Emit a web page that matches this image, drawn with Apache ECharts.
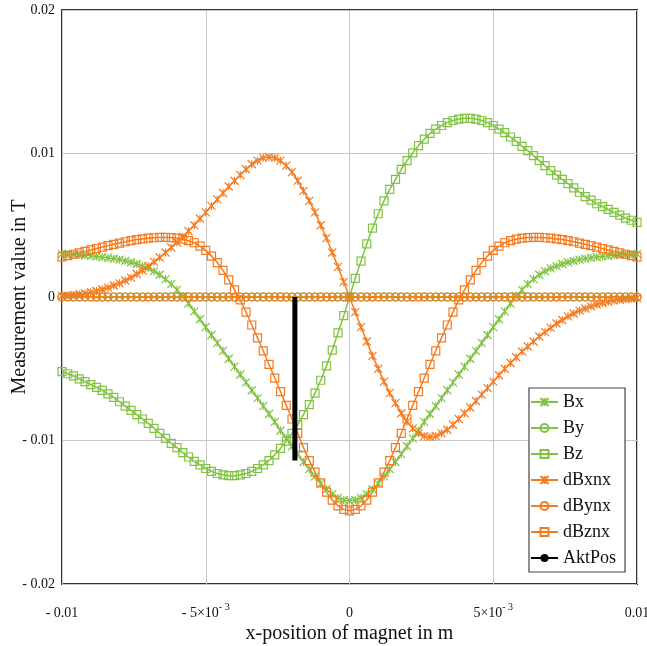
<!DOCTYPE html>
<html>
<head>
<meta charset="utf-8">
<script src="https://cdn.jsdelivr.net/npm/echarts@6/dist/echarts.min.js"></script>
<style>html,body{margin:0;padding:0;background:#fff}#c{width:647px;height:646px}</style>
</head>
<body>
<div id="c"></div>
<script>
// x positions of magnet (m)
var xs = [-0.0100,-0.0098,-0.0096,-0.0094,-0.0092,-0.0090,-0.0088,-0.0086,-0.0084,-0.0082,
-0.0080,-0.0078,-0.0076,-0.0074,-0.0072,-0.0070,-0.0068,-0.0066,-0.0064,-0.0062,
-0.0060,-0.0058,-0.0056,-0.0054,-0.0052,-0.0050,-0.0048,-0.0046,-0.0044,-0.0042,
-0.0040,-0.0038,-0.0036,-0.0034,-0.0032,-0.0030,-0.0028,-0.0026,-0.0024,-0.0022,
-0.0020,-0.0018,-0.0016,-0.0014,-0.0012,-0.0010,-0.0008,-0.0006,-0.0004,-0.0002,
0,
0.0002,0.0004,0.0006,0.0008,0.0010,0.0012,0.0014,0.0016,0.0018,0.0020,
0.0022,0.0024,0.0026,0.0028,0.0030,0.0032,0.0034,0.0036,0.0038,0.0040,
0.0042,0.0044,0.0046,0.0048,0.0050,0.0052,0.0054,0.0056,0.0058,0.0060,
0.0062,0.0064,0.0066,0.0068,0.0070,0.0072,0.0074,0.0076,0.0078,0.0080,
0.0082,0.0084,0.0086,0.0088,0.0090,0.0092,0.0094,0.0096,0.0098,0.0100];

// Measurement values in T
var bx = [3.0e-3,2.98e-3,2.96e-3,2.94e-3,2.91e-3,2.87e-3,2.83e-3,2.78e-3,2.73e-3,2.67e-3,
2.6e-3,2.52e-3,2.42e-3,2.3e-3,2.15e-3,2.0e-3,1.8e-3,1.55e-3,1.25e-3,0.9e-3,
0.5e-3,0.05e-3,-0.45e-3,-1.0e-3,-1.55e-3,-2.1e-3,-2.65e-3,-3.2e-3,-3.75e-3,-4.3e-3,
-4.85e-3,-5.4e-3,-5.95e-3,-6.5e-3,-7.05e-3,-7.6e-3,-8.15e-3,-8.7e-3,-9.3e-3,-9.85e-3,
-10.4e-3,-10.95e-3,-11.5e-3,-12.0e-3,-12.5e-3,-13.0e-3,-13.4e-3,-13.75e-3,-14.0e-3,-14.15e-3,
-14.2e-3,
-14.15e-3,-14.0e-3,-13.75e-3,-13.4e-3,-13.0e-3,-12.5e-3,-12.0e-3,-11.5e-3,-10.95e-3,-10.4e-3,
-9.85e-3,-9.3e-3,-8.7e-3,-8.15e-3,-7.6e-3,-7.05e-3,-6.5e-3,-5.95e-3,-5.4e-3,-4.85e-3,
-4.3e-3,-3.75e-3,-3.2e-3,-2.65e-3,-2.1e-3,-1.55e-3,-1.0e-3,-0.45e-3,0.05e-3,0.5e-3,
0.9e-3,1.25e-3,1.55e-3,1.8e-3,2.0e-3,2.15e-3,2.3e-3,2.42e-3,2.52e-3,2.6e-3,
2.67e-3,2.73e-3,2.78e-3,2.83e-3,2.87e-3,2.91e-3,2.94e-3,2.96e-3,2.98e-3,3.0e-3];

var by = [0,0,0,0,0,0,0,0,0,0, 0,0,0,0,0,0,0,0,0,0, 0,0,0,0,0,0,0,0,0,0, 0,0,0,0,0,0,0,0,0,0, 0,0,0,0,0,0,0,0,0,0,
0,
0,0,0,0,0,0,0,0,0,0, 0,0,0,0,0,0,0,0,0,0, 0,0,0,0,0,0,0,0,0,0, 0,0,0,0,0,0,0,0,0,0, 0,0,0,0,0,0,0,0,0,0];

var bz = [-5.2e-3,-5.35e-3,-5.5e-3,-5.7e-3,-5.9e-3,-6.1e-3,-6.3e-3,-6.5e-3,-6.75e-3,-7.0e-3,
-7.3e-3,-7.6e-3,-7.9e-3,-8.2e-3,-8.5e-3,-8.8e-3,-9.15e-3,-9.5e-3,-9.85e-3,-10.2e-3,
-10.5e-3,-10.85e-3,-11.15e-3,-11.45e-3,-11.7e-3,-11.95e-3,-12.15e-3,-12.3e-3,-12.4e-3,-12.45e-3,
-12.45e-3,-12.4e-3,-12.3e-3,-12.15e-3,-11.95e-3,-11.7e-3,-11.4e-3,-11.0e-3,-10.55e-3,-10.05e-3,
-9.5e-3,-8.9e-3,-8.2e-3,-7.5e-3,-6.7e-3,-5.8e-3,-4.8e-3,-3.7e-3,-2.5e-3,-1.3e-3,
0,
1.3e-3,2.5e-3,3.7e-3,4.8e-3,5.8e-3,6.7e-3,7.5e-3,8.2e-3,8.9e-3,9.5e-3,
10.05e-3,10.55e-3,11.0e-3,11.4e-3,11.7e-3,11.95e-3,12.15e-3,12.3e-3,12.4e-3,12.45e-3,
12.45e-3,12.4e-3,12.3e-3,12.15e-3,11.95e-3,11.7e-3,11.45e-3,11.15e-3,10.85e-3,10.5e-3,
10.2e-3,9.85e-3,9.5e-3,9.15e-3,8.8e-3,8.5e-3,8.2e-3,7.9e-3,7.6e-3,7.3e-3,
7.0e-3,6.75e-3,6.5e-3,6.3e-3,6.1e-3,5.9e-3,5.7e-3,5.5e-3,5.35e-3,5.2e-3];

var dBxnx = [0.07e-3,0.1e-3,0.14e-3,0.19e-3,0.25e-3,0.33e-3,0.42e-3,0.52e-3,0.65e-3,0.8e-3,
0.95e-3,1.15e-3,1.35e-3,1.6e-3,1.85e-3,2.15e-3,2.45e-3,2.75e-3,3.1e-3,3.45e-3,
3.8e-3,4.2e-3,4.6e-3,5.0e-3,5.45e-3,5.9e-3,6.35e-3,6.8e-3,7.25e-3,7.7e-3,
8.1e-3,8.5e-3,8.9e-3,9.25e-3,9.5e-3,9.7e-3,9.75e-3,9.7e-3,9.5e-3,9.15e-3,
8.7e-3,8.1e-3,7.4e-3,6.7e-3,5.9e-3,5.0e-3,4.1e-3,3.1e-3,2.1e-3,1.05e-3,
0,
-1.05e-3,-2.1e-3,-3.1e-3,-4.1e-3,-5.0e-3,-5.9e-3,-6.7e-3,-7.4e-3,-8.1e-3,-8.7e-3,
-9.15e-3,-9.5e-3,-9.7e-3,-9.75e-3,-9.7e-3,-9.5e-3,-9.25e-3,-8.9e-3,-8.5e-3,-8.1e-3,
-7.7e-3,-7.25e-3,-6.8e-3,-6.35e-3,-5.9e-3,-5.45e-3,-5.0e-3,-4.6e-3,-4.2e-3,-3.8e-3,
-3.45e-3,-3.1e-3,-2.75e-3,-2.45e-3,-2.15e-3,-1.85e-3,-1.6e-3,-1.35e-3,-1.15e-3,-0.95e-3,
-0.8e-3,-0.65e-3,-0.52e-3,-0.42e-3,-0.33e-3,-0.25e-3,-0.19e-3,-0.14e-3,-0.1e-3,-0.07e-3];

var dBynx = [0,0,0,0,0,0,0,0,0,0, 0,0,0,0,0,0,0,0,0,0, 0,0,0,0,0,0,0,0,0,0, 0,0,0,0,0,0,0,0,0,0, 0,0,0,0,0,0,0,0,0,0,
0,
0,0,0,0,0,0,0,0,0,0, 0,0,0,0,0,0,0,0,0,0, 0,0,0,0,0,0,0,0,0,0, 0,0,0,0,0,0,0,0,0,0, 0,0,0,0,0,0,0,0,0,0];

var dBznx = [2.8e-3,2.89e-3,2.98e-3,3.08e-3,3.18e-3,3.28e-3,3.38e-3,3.48e-3,3.58e-3,3.67e-3,
3.76e-3,3.85e-3,3.93e-3,4.0e-3,4.05e-3,4.1e-3,4.13e-3,4.15e-3,4.15e-3,4.14e-3,
4.1e-3,4.03e-3,3.93e-3,3.78e-3,3.55e-3,3.25e-3,2.85e-3,2.4e-3,1.85e-3,1.2e-3,
0.5e-3,-0.2e-3,-1.05e-3,-1.95e-3,-2.85e-3,-3.75e-3,-4.7e-3,-5.65e-3,-6.6e-3,-7.55e-3,
-8.5e-3,-9.5e-3,-10.5e-3,-11.4e-3,-12.2e-3,-12.95e-3,-13.6e-3,-14.15e-3,-14.55e-3,-14.8e-3,
-14.9e-3,
-14.8e-3,-14.55e-3,-14.15e-3,-13.6e-3,-12.95e-3,-12.2e-3,-11.4e-3,-10.5e-3,-9.5e-3,-8.5e-3,
-7.55e-3,-6.6e-3,-5.65e-3,-4.7e-3,-3.75e-3,-2.85e-3,-1.95e-3,-1.05e-3,-0.2e-3,0.5e-3,
1.2e-3,1.85e-3,2.4e-3,2.85e-3,3.25e-3,3.55e-3,3.78e-3,3.93e-3,4.03e-3,4.1e-3,
4.14e-3,4.15e-3,4.15e-3,4.13e-3,4.1e-3,4.05e-3,4.0e-3,3.93e-3,3.85e-3,3.76e-3,
3.67e-3,3.58e-3,3.48e-3,3.38e-3,3.28e-3,3.18e-3,3.08e-3,2.98e-3,2.89e-3,2.8e-3];

// AktPos marker line
var aktPosX = [-0.0019, -0.0019];
var aktPosY = [0, -0.0114];

// tick labels
var xTickValues = [-0.01, -0.005, 0, 0.005, 0.01];
var xTickMain = ['- 0.01', '- 5\u00d710', '0', '5\u00d710', '0.01'];
var xTickExp = ['', '- 3', '', '- 3', ''];
var yTickValues = [-0.02, -0.01, 0, 0.01, 0.02];
var yTickLabels = ['- 0.02', '- 0.01', '0', '0.01', '0.02'];

var seriesNames = ['Bx', 'By', 'Bz', 'dBxnx', 'dBynx', 'dBznx', 'AktPos'];

var GREEN = '#80c342';
var ORANGE = '#f47b20';
var FONT = 'Liberation Serif';
var X_SYMBOL = 'path://M0,0L10,10M10,0L0,10M5,0L5,10';

function pairs(xv, yv) {
  var out = [];
  for (var i = 0; i < xv.length; i++) out.push([xv[i], yv[i]]);
  return out;
}
function nearestIndex(arr, v) {
  var best = 0;
  for (var i = 1; i < arr.length; i++) if (Math.abs(arr[i] - v) < Math.abs(arr[best] - v)) best = i;
  return best;
}
function markerSeries(name, yv, color, symbol) {
  return {
    name: name, type: 'line', data: pairs(xs, yv),
    symbol: symbol, symbolSize: 8, showSymbol: true, showAllSymbol: true,
    lineStyle: { color: color, width: 1.5 },
    itemStyle: { color: 'rgba(0,0,0,0)', borderColor: color, borderWidth: 1.2 },
    emphasis: { disabled: true },
    animation: false
  };
}

var chart = echarts.init(document.getElementById('c'), null, { renderer: 'canvas' });
chart.setOption({
  animation: false,
  backgroundColor: '#fff',
  textStyle: { fontFamily: FONT },
  grid: { left: 62, right: 10, top: 10, bottom: 62, show: true, borderColor: '#333', borderWidth: 2,
          containLabel: false, outerBoundsMode: 'none' },
  xAxis: {
    type: 'value', min: -0.01, max: 0.01, interval: 0.005,
    axisLine: { show: false }, axisTick: { show: false },
    splitLine: { show: true, lineStyle: { color: '#c8c8c8', width: 1 } },
    axisLabel: {
      margin: 18, fontFamily: FONT, fontSize: 14, color: '#111',
      formatter: function (v) {
        var i = nearestIndex(xTickValues, v);
        var s = '{m|' + xTickMain[i] + '}';
        if (xTickExp[i]) s += '{e|' + xTickExp[i] + '}';
        return s;
      },
      rich: {
        m: { fontFamily: FONT, fontSize: 14, color: '#111', lineHeight: 18, verticalAlign: 'bottom' },
        e: { fontFamily: FONT, fontSize: 10, color: '#111', lineHeight: 10, verticalAlign: 'top' }
      }
    },
    name: 'x-position of magnet in m', nameLocation: 'middle', nameGap: 40, nameMoveOverlap: false,
    nameTextStyle: { fontFamily: FONT, fontSize: 20, color: '#111' }
  },
  yAxis: {
    type: 'value', min: -0.02, max: 0.02, interval: 0.01,
    axisLine: { show: false }, axisTick: { show: false },
    splitLine: { show: true, lineStyle: { color: '#c8c8c8', width: 1 } },
    axisLabel: {
      margin: 7, fontFamily: FONT, fontSize: 14, color: '#111',
      formatter: function (v) { return yTickLabels[nearestIndex(yTickValues, v)]; }
    },
    name: 'Measurement value in T', nameLocation: 'middle', nameRotate: 90, nameGap: 32, nameMoveOverlap: false,
    nameTextStyle: { fontFamily: FONT, fontSize: 20, color: '#111' }
  },
  legend: {
    orient: 'vertical', left: 529, top: 388,
    data: seriesNames,
    itemWidth: 27, itemHeight: 10, itemGap: 8,
    backgroundColor: '#fff', borderColor: '#444', borderWidth: 1.2,
    padding: [5, 9, 5, 1],
    textStyle: { fontFamily: FONT, fontSize: 18, color: '#111', lineHeight: 18 },
    selectedMode: false
  },
  series: [
    markerSeries('Bx', bx, GREEN, X_SYMBOL),
    markerSeries('By', by, GREEN, 'circle'),
    markerSeries('Bz', bz, GREEN, 'rect'),
    markerSeries('dBxnx', dBxnx, ORANGE, X_SYMBOL),
    markerSeries('dBynx', dBynx, ORANGE, 'circle'),
    markerSeries('dBznx', dBznx, ORANGE, 'rect'),
    {
      name: 'AktPos', type: 'line', data: pairs(aktPosX, aktPosY),
      symbol: 'none', lineStyle: { color: '#000', width: 5 }, itemStyle: { color: '#000' },
      emphasis: { disabled: true }, z: 5
    }
  ]
});
</script>
</body>
</html>
